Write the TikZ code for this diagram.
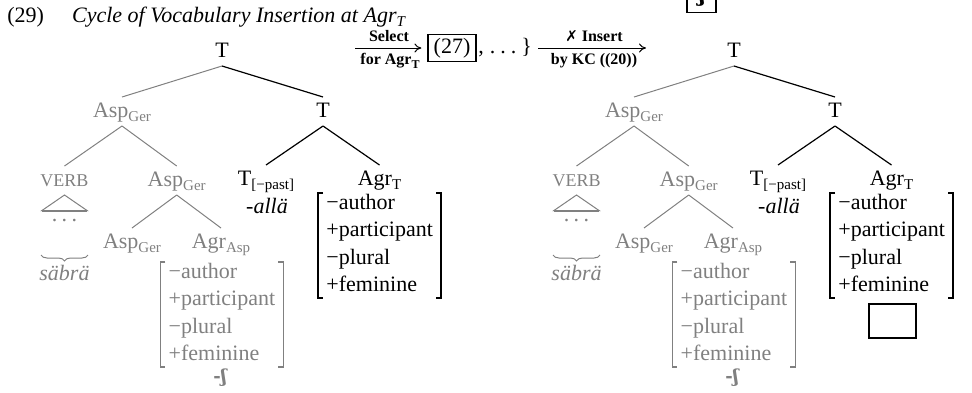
\documentclass[tikz,border=0pt]{standalone}
\usepackage{fontspec}
\setmainfont{Liberation Serif}
\newfontfamily\ipafont{DejaVu Serif}
\newfontfamily\symsans{DejaVu Sans}
\usetikzlibrary{arrows.meta,decorations.pathreplacing}
\definecolor{tg}{gray}{0.5}
\newcommand\lo[2][7.5]{\raisebox{-0.22em}{\fontsize{#1}{#1}\selectfont #2}}
\tikzset{
  tn/.style={anchor=base, inner sep=0pt, text height=8pt, text depth=2.5pt, outer sep=2pt, font=\fontsize{11}{13}\selectfont},
  gr/.style={text=tg},
  gl/.style={draw=tg, line width=0.5pt},
  bl/.style={draw=black, line width=0.6pt},
  ft/.style={anchor=base west, inner sep=0pt, font=\fontsize{11}{13}\selectfont},
  lab/.style={inner sep=0pt, font=\bfseries\fontsize{8}{9}\selectfont},
  arr/.style={draw=black, line width=0.5pt, -{To[length=3.5pt,width=4.5pt]}},
}
\newcommand\featm[4]{%
  \node[ft,text=#4] (#1f1) at (#2,#3) {−author};
  \node[ft,text=#4] (#1f2) at (#2,#3+27.5) {+participant};
  \node[ft,text=#4] (#1f3) at (#2,#3+55) {−plural};
  \node[ft,text=#4] (#1f4) at (#2,#3+82.5) {+feminine};
  \draw[draw=#4, line width=0.75pt] (#2-3,#3-16) -- (#2-8,#3-16) -- (#2-8,#3+89) -- (#2-3,#3+89);
  \draw[draw=#4, line width=0.75pt] (#2+110,#3-16) -- (#2+115,#3-16) -- (#2+115,#3+89) -- (#2+110,#3+89);
}
\newcommand\drawtree[2]{%
  \node[tn] (#1root) at (#2+222,57) {T};
  \node[tn,gr] (#1aspA) at (#2+122,117) {Asp\lo{Ger}};
  \node[tn] (#1tB) at (#2+323,117) {T};
  \node[tn,gr,font=\fontsize{9}{9}\selectfont] (#1verb) at (#2+64.5,186) {VERB};
  \node[tn,gr] (#1aspB) at (#2+176.7,186) {Asp\lo{Ger}};
  \node[tn] (#1tpast) at (#2+266,185) {T\lo{[−past]}};
  \node[inner sep=0pt, anchor=base, font=\fontsize{11}{13}\selectfont\itshape] (#1alla) at (#2+267,213) {-allä};
  \node[tn] (#1agrT) at (#2+379.5,185) {Agr\lo{T}};
  \node[tn,gr] (#1aspC) at (#2+132,248) {Asp\lo{Ger}};
  \node[tn,gr] (#1agrAsp) at (#2+221,248) {Agr\lo{Asp}};
  \node[gr, inner sep=0pt, anchor=base, font=\fontsize{11}{13}\selectfont] (#1dots) at (#2+64.5,221) {.\hspace{2.2pt}.\hspace{2.2pt}.};
  \node[gr, inner sep=0pt, anchor=base, font=\fontsize{11}{13}\selectfont\itshape] (#1sabra) at (#2+64.5,280) {säbrä};
  \draw[gl] (#1root.south) -- (#1aspA.north);
  \draw[bl] (#1root.south) -- (#1tB.north);
  \draw[gl] (#1aspA.south) -- (#1verb.north);
  \draw[gl] (#1aspA.south) -- (#1aspB.north);
  \draw[bl] (#1tB.south) -- (#1tpast.north);
  \draw[bl] (#1tB.south) -- (#1agrT.north);
  \draw[gl] (#1aspB.south) -- (#1aspC.north);
  \draw[gl] (#1aspB.south) -- (#1agrAsp.north);
  \draw[gl] (#1verb.south) -- (#2+41.7,210.7) -- (#2+87.3,210.7) -- cycle;
  \draw[draw=tg, line width=1pt] (#2+41.7,210.7) -- (#2+87.3,210.7);
  \draw[draw=tg, line width=0.5pt, decorate, decoration={brace, mirror, amplitude=3pt}] (#2+41,255) -- (#2+88,255);
  \featm{#1g}{#2+168.3}{278}{tg}
  \featm{#1b}{#2+326}{209}{black}
  \node[gr, inner sep=0pt, font=\ipafont\bfseries\fontsize{9}{9}\selectfont] (#1sh) at (#2+220,378) {-ʃ};
}
\begin{document}
\begin{tikzpicture}[x=0.5pt,y=-0.5pt]
\useasboundingbox (0,0) rectangle (972,392);
% title
\node[inner sep=0pt, anchor=base west, font=\fontsize{11}{13}\selectfont] (num) at (7,22) {(29)};
\node[inner sep=0pt, anchor=base west, font=\fontsize{11}{13}\selectfont\itshape] (ttl) at (71.7,22) {Cycle of Vocabulary Insertion at Agr\lo{T}};
% top clipped box
\node[draw, line width=0.6pt, minimum width=14.5pt, minimum height=17pt, inner sep=0pt, font=\ipafont\bfseries\fontsize{11}{11}\selectfont] (topbox) at (701.5,-4.7) {ʃ};
% trees
\drawtree{L}{0}
\drawtree{R}{512}
\node[draw, line width=0.6pt, minimum width=23.5pt, minimum height=17pt, inner sep=0pt] (slot) at (892.5,321) {};
% middle arrows
\node[draw, line width=0.6pt, minimum width=24pt, minimum height=13.5pt, inner sep=0pt, font=\fontsize{11}{12}\selectfont] (box27) at (452,48) {(27)};
\node[inner sep=0pt, anchor=base west, font=\fontsize{11}{13}\selectfont] (rest) at (478,53) {,\hspace{3pt}.\hspace{2.5pt}.\hspace{2.5pt}.\hspace{2.5pt}\}};
\coordinate (a1s) at (355,48);
\coordinate (a2e) at (646,48);
\draw[arr] (a1s) -- ([xshift=-3pt]box27.west);
\draw[arr] ([xshift=3pt]rest.east |- a2e) -- (a2e);
\node[lab] (sel) at (389,36) {Select};
\node[lab] (for) at (390,61) {for Agr\lo[6]{T}};
\node[lab] (ins) at (594,36) {{\symsans\fontsize{7.5}{8}\selectfont ✗} Insert};
\node[lab] (kc) at (594,61) {by KC ((20))};
\end{tikzpicture}
\end{document}
